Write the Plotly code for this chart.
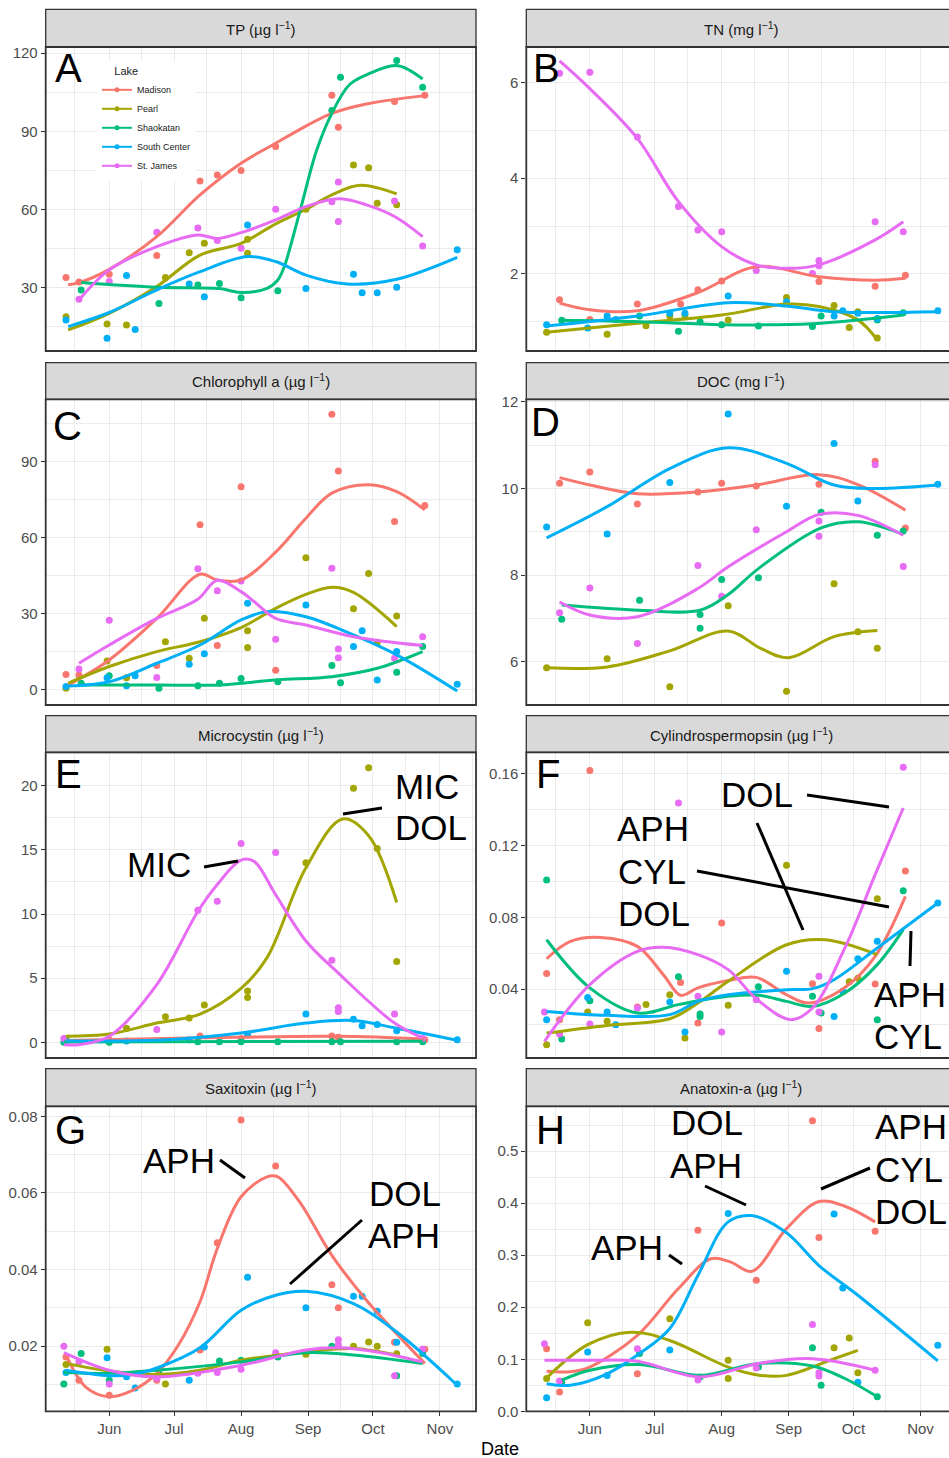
import plotly.graph_objects as go
import pandas as pd

YEAR = "2016"
LAKES = ["Madison", "Pearl", "Shaokatan", "South Center", "St. James"]
COLORS = ["#F8766D", "#A3A500", "#00BF7D", "#00B0F6", "#E76BF3"]

# ---------------- Panel A: TP (ug/l) ----------------
TP_POINTS = [
    [("05-12", 33.8), ("05-18", 32), ("06-01", 35), ("06-23", 42.2), ("07-13", 70.9), ("07-21", 73.2),
     ("08-01", 74.9), ("08-17", 84.1), ("09-12", 103.8), ("09-15", 91.5), ("10-11", 101.4), ("10-25", 103.8)],
    [("05-12", 18.7), ("05-31", 15.9), ("06-09", 15.5), ("06-27", 33.8), ("07-08", 43.3), ("07-15", 46.9),
     ("08-04", 48.5), ("08-04", 43.1), ("08-31", 60), ("09-22", 77), ("09-29", 76), ("10-03", 62.3), ("10-12", 61.7)],
    [("05-19", 29), ("06-24", 23.8), ("07-12", 30.9), ("07-22", 31.5), ("08-01", 26), ("08-18", 28.7),
     ("09-12", 98), ("09-16", 110.8), ("10-12", 117.2), ("10-24", 106.9)],
    [("05-12", 17.4), ("05-31", 10.4), ("06-09", 34.5), ("06-13", 13.8), ("07-08", 31.3), ("07-15", 26.4),
     ("08-04", 54), ("08-31", 29.5), ("09-22", 35), ("09-26", 27.9), ("10-03", 27.9), ("10-12", 30), ("11-09", 44.4)],
    [("05-18", 25.4), ("06-01", 32.2), ("06-23", 51.2), ("07-12", 52.8), ("07-21", 48), ("08-01", 45),
     ("08-17", 60), ("09-12", 62.9), ("09-15", 70.5), ("09-15", 55.3), ("10-11", 63.2), ("10-24", 45.9)],
]
TP_FITS = [
    [("05-13", 31), ("05-18", 31.8), ("06-01", 36.9), ("06-23", 49.5), ("07-13", 65.5), ("08-01", 77.7),
     ("08-17", 85.4), ("08-31", 92), ("09-12", 96.9), ("09-28", 100.5), ("10-25", 103.7)],
    [("05-13", 13.6), ("06-01", 20), ("06-23", 30.3), ("07-13", 42.4), ("08-01", 46.9), ("08-17", 54.4),
     ("08-31", 60), ("09-12", 65.5), ("09-25", 69.2), ("10-12", 65.9)],
    [("05-19", 31.8), ("06-23", 30), ("07-22", 29.5), ("08-01", 28), ("08-13", 29.6), ("08-18", 32.8),
     ("08-21", 38), ("08-28", 58.5), ("09-05", 82.8), ("09-12", 96.9), ("09-20", 107.8), ("09-28", 111.7),
     ("10-12", 115.3), ("10-24", 110.1)],
    [("05-13", 14.9), ("06-01", 20.3), ("06-23", 29), ("07-13", 36), ("08-04", 41.8), ("08-17", 39.9),
     ("08-31", 34.7), ("09-19", 31.3), ("10-12", 33.1), ("11-09", 41.5)],
    [("05-18", 25.1), ("06-01", 36.7), ("06-23", 45.6), ("07-12", 50.1), ("07-21", 48.8), ("08-01", 51),
     ("08-17", 55.9), ("08-31", 61), ("09-15", 64), ("09-28", 61.7), ("10-11", 57.2), ("10-24", 49.5)],
]

# ---------------- Panel B: TN (mg/l) ----------------
TN_POINTS = [
    [("05-18", 1.46), ("06-01", 1.05), ("06-23", 1.37), ("07-13", 1.37), ("07-21", 1.67), ("08-01", 1.85),
     ("09-15", 1.84), ("10-11", 1.74), ("10-25", 1.97)],
    [("05-12", 0.78), ("06-09", 0.74), ("06-27", 0.92), ("07-08", 1.12), ("07-15", 1.14), ("08-04", 1.04),
     ("08-31", 1.51), ("09-22", 1.34), ("09-29", 0.88), ("10-03", 1.21), ("10-12", 0.66)],
    [("05-19", 1.03), ("06-24", 1.12), ("07-12", 0.8), ("07-22", 1.0), ("08-01", 0.94), ("08-18", 0.91),
     ("09-12", 0.9), ("09-16", 1.12), ("10-12", 1.04), ("10-24", 1.19)],
    [("05-12", 0.94), ("05-31", 0.87), ("06-09", 1.12), ("06-13", 1.05), ("07-08", 1.18), ("07-15", 1.18),
     ("08-04", 1.54), ("08-31", 1.42), ("09-22", 1.12), ("09-26", 1.23), ("10-03", 1.18), ("10-12", 1.07), ("11-09", 1.23)],
    [("05-18", 6.19), ("06-01", 6.21), ("06-23", 4.86), ("07-12", 3.41), ("07-21", 2.92), ("08-01", 2.88),
     ("08-17", 2.07), ("09-12", 2.01), ("09-15", 2.28), ("09-15", 2.17), ("10-11", 3.09), ("10-24", 2.88)],
]
TN_FITS = [
    [("05-18", 1.39), ("06-01", 1.25), ("06-23", 1.23), ("07-21", 1.61), ("08-17", 2.15), ("09-15", 1.94),
     ("10-11", 1.87), ("10-25", 1.91)],
    [("05-12", 0.78), ("06-23", 0.97), ("08-01", 1.14), ("08-31", 1.37), ("09-15", 1.32), ("10-03", 1.04), ("10-12", 0.62)],
    [("05-19", 1.03), ("06-24", 1.0), ("08-01", 0.94), ("09-12", 0.96), ("10-24", 1.14)],
    [("05-12", 0.91), ("06-23", 1.12), ("08-04", 1.4), ("08-31", 1.33), ("09-22", 1.21), ("11-09", 1.21)],
    [("05-18", 6.45), ("06-01", 5.87), ("06-23", 4.83), ("07-12", 3.51), ("08-01", 2.57), ("08-17", 2.19),
     ("09-04", 2.12), ("09-15", 2.19), ("10-11", 2.71), ("10-24", 3.09)],
]

# ---------------- Panel C: Chlorophyll a (ug/l) ----------------
CHL_POINTS = [
    [("05-12", 5.9), ("05-18", 5.7), ("06-23", 9.4), ("07-13", 65), ("07-21", 17.3), ("08-01", 80),
     ("08-17", 7.5), ("09-12", 108.7), ("09-15", 86.3), ("10-11", 66.3), ("10-25", 72.6)],
    [("05-12", 0.4), ("05-31", 11.2), ("06-09", 4.6), ("06-27", 18.8), ("07-08", 12.3), ("07-15", 28.1),
     ("08-04", 23.1), ("08-04", 16.5), ("08-31", 52), ("09-22", 31.8), ("09-29", 45.8), ("10-03", 18.6), ("10-12", 29)],
    [("05-19", 2.4), ("06-01", 5.4), ("06-24", 0.4), ("07-12", 1.4), ("07-22", 2.4), ("08-01", 4.3),
     ("08-18", 3.0), ("09-12", 9.4), ("09-16", 2.6), ("10-12", 6.7), ("10-24", 16.9)],
    [("05-12", 1.1), ("05-31", 4.6), ("06-09", 1.4), ("06-13", 5.4), ("07-08", 9.9), ("07-15", 14.1),
     ("08-04", 34), ("08-31", 33.3), ("09-22", 16.9), ("09-26", 23.1), ("10-03", 3.7), ("10-12", 14.9), ("11-09", 2.0)],
    [("05-18", 8), ("06-01", 27.3), ("06-23", 4.7), ("07-12", 47.6), ("07-21", 38.9), ("08-01", 42.8),
     ("08-17", 19.8), ("09-12", 47.8), ("09-15", 15.9), ("09-15", 12.5), ("10-11", 12.3), ("10-24", 20.8)],
]
CHL_FITS = [
    [("05-13", 1.7), ("06-01", 11.6), ("06-23", 28), ("07-13", 45.5), ("07-21", 43.2), ("08-01", 43.2),
     ("08-17", 54.2), ("08-31", 67.6), ("09-12", 77.5), ("09-29", 80.8), ("10-12", 78.1), ("10-25", 70.9)],
    [("05-13", 2.4), ("06-01", 9), ("06-23", 14.9), ("07-13", 18.8), ("08-01", 24.4), ("08-17", 32),
     ("08-31", 37.5), ("09-12", 40.3), ("09-22", 38.3), ("10-12", 24.8)],
    [("05-19", 1.7), ("06-23", 1.7), ("07-22", 1.7), ("08-17", 3.7), ("09-12", 5), ("10-03", 8.3), ("10-24", 14.9)],
    [("05-13", 1.3), ("06-01", 3), ("06-23", 10.3), ("07-13", 17.5), ("08-01", 27.4), ("08-13", 30.7),
     ("08-31", 28.7), ("09-22", 21.5), ("10-12", 13.6), ("11-09", -0.7)],
    [("05-18", 10.3), ("06-01", 17.5), ("06-23", 28), ("07-12", 35.6), ("07-21", 43.1), ("08-01", 38.6),
     ("08-07", 34.7), ("08-17", 28), ("08-31", 25.4), ("09-22", 20.8), ("10-24", 17.3)],
]

# ---------------- Panel D: DOC (mg/l) ----------------
DOC_POINTS = [
    [("05-18", 10.12), ("06-01", 10.38), ("06-23", 9.64), ("07-21", 9.92), ("08-01", 10.12), ("08-17", 10.06),
     ("09-15", 10.1), ("10-11", 10.63), ("10-25", 9.09)],
    [("05-12", 5.86), ("06-09", 6.07), ("07-08", 5.42), ("08-04", 7.29), ("08-31", 5.32), ("09-22", 7.8),
     ("10-03", 6.69), ("10-12", 6.31)],
    [("05-19", 6.98), ("06-24", 7.42), ("07-22", 7.09), ("07-22", 6.77), ("08-01", 7.9), ("08-18", 7.94),
     ("09-16", 9.45), ("10-12", 8.92), ("10-24", 9.02)],
    [("05-12", 9.11), ("06-09", 8.95), ("07-08", 10.14), ("08-04", 11.72), ("08-31", 9.59), ("09-22", 11.04),
     ("10-03", 9.71), ("11-09", 10.1)],
    [("05-18", 7.13), ("06-01", 7.7), ("06-23", 6.42), ("07-21", 8.22), ("08-01", 7.51), ("08-17", 9.05),
     ("09-15", 8.9), ("09-15", 9.25), ("10-11", 10.55), ("10-24", 8.2)],
]
DOC_FITS = [
    [("05-18", 10.25), ("06-01", 10.08), ("06-23", 9.88), ("07-21", 9.92), ("08-17", 10.08), ("09-15", 10.32),
     ("10-03", 10.09), ("10-25", 9.5)],
    [("05-12", 5.86), ("06-09", 5.88), ("07-08", 6.25), ("08-04", 6.71), ("08-19", 6.31), ("09-01", 6.09),
     ("09-22", 6.58), ("10-12", 6.72)],
    [("05-19", 7.31), ("06-24", 7.19), ("07-22", 7.19), ("08-04", 7.55), ("08-18", 8.15), ("09-16", 9.09),
     ("10-03", 9.23), ("10-24", 8.94)],
    [("05-12", 8.86), ("06-09", 9.58), ("07-08", 10.46), ("08-04", 10.94), ("08-31", 10.58), ("09-22", 10.08),
     ("10-11", 10.0), ("11-09", 10.08)],
    [("05-18", 7.38), ("06-01", 7.08), ("06-23", 7.04), ("07-21", 7.69), ("08-04", 8.19), ("08-31", 9.0),
     ("09-15", 9.4), ("10-03", 9.38), ("10-24", 8.92)],
]

# ---------------- Panel E: Microcystin (ug/l) ----------------
MIC_POINTS = [
    [("05-12", 0.2), ("06-01", 0.2), ("07-13", 0.5), ("08-01", 0.3), ("09-12", 0.5), ("09-15", 0.4), ("10-25", 0.2)],
    [("05-12", 0.3), ("06-09", 1.1), ("06-27", 2.0), ("07-08", 1.9), ("07-15", 2.9), ("08-04", 4.0), ("08-04", 3.5),
     ("08-31", 14.0), ("09-22", 19.8), ("09-29", 21.4), ("10-03", 15.1), ("10-12", 6.3)],
    [("05-11", 0.0), ("06-01", 0.0), ("07-12", 0.05), ("07-22", 0.05), ("08-01", 0.05), ("08-18", 0.05),
     ("09-12", 0.05), ("09-16", 0.05), ("10-12", 0.05), ("10-24", 0.05)],
    [("05-12", 0.1), ("06-09", 0.1), ("07-08", 0.2), ("08-04", 0.6), ("08-31", 2.2), ("09-22", 1.8),
     ("09-26", 1.3), ("10-03", 1.4), ("10-12", 0.9), ("11-09", 0.2)],
    [("05-11", 0.29), ("06-23", 1.0), ("07-12", 10.3), ("07-21", 11.0), ("08-01", 15.5), ("08-17", 14.8),
     ("09-12", 6.4), ("09-15", 2.7), ("09-15", 2.4), ("10-11", 2.2), ("10-24", 0.3)],
]
MIC_FITS = [
    [("05-12", 0.15), ("07-13", 0.35), ("09-15", 0.47), ("10-25", 0.26)],
    [("05-12", 0.47), ("06-01", 0.65), ("06-23", 1.5), ("07-13", 2.2), ("08-01", 4.2), ("08-13", 6.6),
     ("08-31", 13.6), ("09-17", 17.4), ("09-29", 16.1), ("10-12", 10.9)],
    [("05-11", 0.03), ("10-24", 0.08)],
    [("05-12", 0.13), ("06-23", 0.16), ("08-01", 0.73), ("08-31", 1.5), ("09-22", 1.7), ("10-12", 1.1), ("11-09", 0.16)],
    [("05-11", -0.18), ("05-18", -0.18), ("06-01", 0.47), ("06-23", 4.5), ("07-12", 10.2), ("07-21", 12.3),
     ("08-01", 14.2), ("08-07", 14.1), ("08-17", 11.5), ("08-31", 7.9), ("09-15", 5.4), ("10-11", 1.5), ("10-24", 0.34)],
]

# ---------------- Panel F: Cylindrospermopsin (ug/l) ----------------
CYL_POINTS = [
    [("05-12", 0.0487), ("05-18", 0.0229), ("06-01", 0.1619), ("06-23", 0.030), ("07-13", 0.0437), ("07-21", 0.021),
     ("08-01", 0.0768), ("09-12", 0.043), ("09-15", 0.0179), ("10-11", 0.0428), ("10-25", 0.1059)],
    [("05-12", 0.0089), ("05-31", 0.0272), ("06-09", 0.022), ("06-27", 0.0313), ("07-08", 0.0368), ("07-15", 0.0127),
     ("08-04", 0.0309), ("08-31", 0.109), ("09-29", 0.044), ("10-03", 0.046), ("10-12", 0.0904)],
    [("05-12", 0.1008), ("05-19", 0.0121), ("06-01", 0.0335), ("07-12", 0.0469), ("07-22", 0.026), ("07-22", 0.0247),
     ("08-18", 0.0413), ("09-12", 0.0359), ("09-16", 0.0266), ("10-12", 0.0229), ("10-24", 0.0949)],
    [("05-12", 0.0229), ("05-31", 0.0353), ("06-09", 0.0272), ("06-13", 0.02), ("07-08", 0.0327), ("07-15", 0.016),
     ("08-31", 0.0499), ("09-22", 0.0247), ("09-26", 0.0387), ("10-03", 0.0569), ("10-12", 0.0666), ("11-09", 0.088)],
    [("05-11", 0.0272), ("05-18", 0.0149), ("06-01", 0.0205), ("06-23", 0.0294), ("07-12", 0.1438), ("07-21", 0.0359),
     ("08-01", 0.016), ("08-17", 0.034), ("09-15", 0.0471), ("09-15", 0.0272), ("10-24", 0.1637)],
]
CYL_FITS = [
    [("05-12", 0.0569), ("05-23", 0.0666), ("06-06", 0.0688), ("06-23", 0.0638), ("07-05", 0.048), ("07-13", 0.0365),
     ("07-21", 0.0406), ("08-04", 0.0447), ("08-17", 0.0465), ("08-31", 0.0368), ("09-10", 0.0322), ("09-27", 0.0409),
     ("10-11", 0.0582), ("10-25", 0.0917)],
    [("05-12", 0.0154), ("06-09", 0.0197), ("07-08", 0.0234), ("07-21", 0.0322), ("08-04", 0.0443), ("08-31", 0.0647),
     ("09-18", 0.0675), ("10-12", 0.0592)],
    [("05-12", 0.0675), ("06-01", 0.0406), ("06-23", 0.0266), ("07-12", 0.0313), ("08-04", 0.0359), ("08-18", 0.0365),
     ("08-31", 0.0331), ("09-12", 0.0303), ("09-27", 0.0378), ("10-12", 0.0536), ("10-24", 0.0731)],
    [("05-12", 0.0275), ("06-09", 0.0253), ("07-08", 0.0257), ("07-21", 0.0331), ("08-04", 0.0368), ("08-31", 0.0396),
     ("09-12", 0.0402), ("09-22", 0.0452), ("10-12", 0.0629), ("11-09", 0.088)],
    [("05-11", 0.0108), ("06-01", 0.0424), ("06-23", 0.061), ("07-05", 0.0633), ("07-21", 0.0592), ("08-04", 0.0508),
     ("08-17", 0.0346), ("09-02", 0.0229), ("09-12", 0.0294), ("09-27", 0.0629), ("10-11", 0.1038), ("10-24", 0.141)],
]

# ---------------- Panel G: Saxitoxin (ug/l) ----------------
SAX_POINTS = [
    [("05-12", 0.0172), ("05-18", 0.0111), ("06-01", 0.0072), ("06-23", 0.0111), ("07-13", 0.019), ("07-21", 0.047),
     ("08-01", 0.079), ("08-17", 0.067), ("09-12", 0.036), ("09-15", 0.030), ("10-11", 0.021), ("10-25", 0.0192)],
    [("05-12", 0.0152), ("05-31", 0.0192), ("06-27", 0.0101), ("08-04", 0.016), ("08-31", 0.0179), ("09-22", 0.020),
     ("09-29", 0.0211), ("10-03", 0.020), ("10-12", 0.018)],
    [("05-11", 0.0101), ("05-19", 0.0181), ("06-01", 0.0111), ("06-24", 0.0137), ("07-22", 0.0161), ("08-01", 0.0163),
     ("08-18", 0.0172), ("09-12", 0.020), ("10-12", 0.0123), ("10-24", 0.0181)],
    [("05-12", 0.0131), ("05-31", 0.017), ("06-09", 0.012), ("06-13", 0.0091), ("07-08", 0.0111), ("07-15", 0.0198),
     ("08-04", 0.038), ("08-31", 0.030), ("09-22", 0.033), ("09-26", 0.033), ("10-03", 0.0291), ("10-12", 0.021),
     ("11-09", 0.0101)],
    [("05-11", 0.020), ("05-18", 0.0159), ("06-01", 0.0101), ("06-23", 0.0116), ("07-12", 0.0129), ("07-21", 0.0131),
     ("08-01", 0.014), ("08-17", 0.0183), ("09-15", 0.0217), ("09-15", 0.0204), ("10-11", 0.0123), ("10-24", 0.0192)],
]
SAX_FITS = [
    [("05-12", 0.0177), ("05-21", 0.0094), ("06-01", 0.0068), ("06-12", 0.0085), ("06-23", 0.0129), ("07-03", 0.0203),
     ("07-13", 0.0316), ("07-21", 0.0455), ("08-01", 0.059), ("08-13", 0.0642), ("08-18", 0.0642), ("08-28", 0.0577),
     ("09-12", 0.0437), ("09-28", 0.032), ("10-25", 0.0155)],
    [("05-12", 0.0155), ("06-01", 0.0135), ("06-23", 0.0126), ("07-13", 0.0137), ("08-01", 0.0163), ("08-31", 0.0185),
     ("09-22", 0.0194), ("10-12", 0.0177)],
    [("05-11", 0.0131), ("06-01", 0.0129), ("06-23", 0.0137), ("08-01", 0.0159), ("08-31", 0.0183), ("09-22", 0.0177),
     ("10-24", 0.0155)],
    [("05-12", 0.0137), ("06-01", 0.0123), ("06-12", 0.0126), ("06-23", 0.0143), ("07-13", 0.0196), ("08-01", 0.0294),
     ("08-17", 0.0333), ("08-31", 0.0343), ("09-22", 0.0311), ("10-12", 0.0237), ("11-09", 0.0098)],
    [("05-11", 0.0183), ("06-01", 0.0137), ("06-23", 0.012), ("08-01", 0.015), ("08-31", 0.019), ("09-15", 0.0196),
     ("10-03", 0.0185), ("10-24", 0.0159)],
]

# ---------------- Panel H: Anatoxin-a (ug/l) ----------------
ANA_POINTS = [
    [("05-12", 0.12), ("05-18", 0.037), ("06-23", 0.072), ("07-21", 0.348), ("08-17", 0.252), ("09-12", 0.558),
     ("09-15", 0.334), ("10-11", 0.346)],
    [("05-12", 0.063), ("05-31", 0.170), ("07-08", 0.178), ("08-04", 0.098), ("08-04", 0.063), ("09-22", 0.122),
     ("09-29", 0.141), ("10-03", 0.074)],
    [("05-19", 0.055), ("06-24", 0.111), ("07-22", 0.066), ("08-18", 0.085), ("09-12", 0.122), ("09-16", 0.05),
     ("10-12", 0.028)],
    [("05-12", 0.026), ("05-31", 0.114), ("06-09", 0.069), ("07-08", 0.118), ("08-04", 0.38), ("09-22", 0.379),
     ("09-26", 0.237), ("10-03", 0.056), ("11-09", 0.127)],
    [("05-11", 0.13), ("05-18", 0.058), ("06-23", 0.12), ("07-21", 0.06), ("08-17", 0.083), ("09-12", 0.167),
     ("09-15", 0.074), ("09-15", 0.068), ("10-11", 0.079)],
]
ANA_FITS = [
    [("05-12", 0.077), ("05-23", 0.076), ("06-01", 0.085), ("06-23", 0.146), ("07-12", 0.236), ("07-27", 0.293),
     ("08-05", 0.287), ("08-15", 0.269), ("08-31", 0.351), ("09-15", 0.403), ("09-27", 0.394), ("10-11", 0.364)],
    [("05-12", 0.064), ("05-31", 0.128), ("06-20", 0.152), ("07-08", 0.136), ("08-04", 0.085), ("08-19", 0.069),
     ("08-31", 0.069), ("09-22", 0.101), ("10-03", 0.117)],
    [("05-19", 0.06), ("06-01", 0.079), ("06-24", 0.09), ("07-22", 0.069), ("08-18", 0.092), ("09-12", 0.087),
     ("09-27", 0.063), ("10-12", 0.028)],
    [("05-12", 0.053), ("05-23", 0.05), ("06-09", 0.072), ("06-23", 0.108), ("07-08", 0.159), ("07-21", 0.261),
     ("08-04", 0.364), ("08-15", 0.376), ("08-31", 0.343), ("09-15", 0.28), ("10-03", 0.223), ("11-09", 0.097)],
    [("05-11", 0.098), ("06-01", 0.098), ("06-23", 0.096), ("07-22", 0.066), ("08-18", 0.092), ("09-12", 0.101),
     ("10-11", 0.079)],
]

TITLES = ["TP (µg l<sup>−1</sup>)", "TN (mg l<sup>−1</sup>)", "Chlorophyll a (µg l<sup>−1</sup>)",
          "DOC (mg l<sup>−1</sup>)", "Microcystin (µg l<sup>−1</sup>)", "Cylindrospermopsin (µg l<sup>−1</sup>)",
          "Saxitoxin (µg l<sup>−1</sup>)", "Anatoxin-a (µg l<sup>−1</sup>)"]
LETTERS = ["A", "B", "C", "D", "E", "F", "G", "H"]
POINTS = [TP_POINTS, TN_POINTS, CHL_POINTS, DOC_POINTS, MIC_POINTS, CYL_POINTS, SAX_POINTS, ANA_POINTS]
FITS = [TP_FITS, TN_FITS, CHL_FITS, DOC_FITS, MIC_FITS, CYL_FITS, SAX_FITS, ANA_FITS]
Y_RANGES = [(5.5, 122.4), (0.39, 6.74), (-6.2, 114.6), (5.0, 12.06),
            (-1.22, 22.6), (0.0015, 0.1721), (0.003, 0.0826), (0.0, 0.586)]
Y_DTICK = [30, 2, 30, 2, 5, 0.04, 0.02, 0.1]
Y_FMT = ["", "", "", "", "", ".2f", ".2f", ".1f"]

# ---------------- layout geometry (pixels) ----------------
W, H = 949, 1458
COL_X = [(45.7, 476.0), (526.3, 956.3)]
ROW_Y = [(47, 351), (399.3, 705), (752.3, 1058), (1106.3, 1411.3)]
STRIP_Y = [(9.3, 47), (362.7, 399.3), (715.7, 752.3), (1068.7, 1106.3)]
PX_PER_DAY = 2.1614
X_START = pd.Timestamp(YEAR + "-05-02 14:30")

FONT = "Arial, Liberation Sans, sans-serif"
BORDER = "#333333"
GRID = "#ebebeb"


def px(x):
    return x / W


def py(y):
    return 1 - y / H


def dates(pairs):
    return [YEAR + "-" + d for d, _ in pairs]


def vals(pairs):
    return [v for _, v in pairs]


fig = go.Figure()
layout = dict(template="none", width=W, height=H, autosize=False,
              margin=dict(l=0, r=0, t=0, b=0, pad=0, autoexpand=False),
              paper_bgcolor="white", plot_bgcolor="white",
              font=dict(family=FONT), showlegend=True)
shapes, annotations = [], []

for i in range(8):
    row, col = i // 2, i % 2
    n = "" if i == 0 else str(i + 1)
    xa, ya = "x" + n, "y" + n
    x0p, x1p = COL_X[col]
    y0p, y1p = ROW_Y[row]
    vis_x1 = min(x1p, W)
    x_end = X_START + pd.Timedelta(days=(vis_x1 - x0p) / PX_PER_DAY)
    bottom = row == 3
    layout["xaxis" + n] = dict(
        domain=[px(x0p), px(vis_x1)], anchor=ya, type="date", automargin=False,
        range=[X_START.strftime("%Y-%m-%d %H:%M"), x_end.strftime("%Y-%m-%d %H:%M")],
        dtick="M1", tick0=YEAR + "-05-01", tickformat="%b",
        showgrid=True, gridcolor=GRID, gridwidth=1.3,
        minor=dict(dtick="M1", tick0=YEAR + "-05-16", showgrid=True, gridcolor=GRID, gridwidth=0.7),
        ticks="outside" if bottom else "", ticklen=4, tickcolor=BORDER, tickwidth=1.2,
        showticklabels=bottom, tickfont=dict(size=15, color="#4d4d4d", family=FONT),
        zeroline=False, showline=False, fixedrange=True)
    dt = Y_DTICK[i]
    layout["yaxis" + n] = dict(
        domain=[py(y1p), py(y0p)], anchor=xa, range=list(Y_RANGES[i]), automargin=False,
        tick0=0, dtick=dt, tickformat=Y_FMT[i],
        showgrid=True, gridcolor=GRID, gridwidth=1.3,
        minor=dict(tick0=0, dtick=dt / 2, showgrid=True, gridcolor=GRID, gridwidth=0.7),
        ticks="outside", ticklen=4, tickcolor=BORDER, tickwidth=1.2,
        tickfont=dict(size=15, color="#4d4d4d", family=FONT),
        zeroline=False, showline=False, fixedrange=True)

    for k in range(5):
        pts = POINTS[i][k]
        fig.add_trace(go.Scatter(x=dates(pts), y=vals(pts), mode="markers", xaxis=xa, yaxis=ya,
                                 marker=dict(color=COLORS[k], size=7, line=dict(width=0)), showlegend=False,
                                 name=LAKES[k], hoverinfo="skip"))
    for k in range(5):
        ft = FITS[i][k]
        fig.add_trace(go.Scatter(x=dates(ft), y=vals(ft), mode="lines", xaxis=xa, yaxis=ya,
                                 line=dict(color=COLORS[k], width=3, shape="spline", smoothing=1.0),
                                 showlegend=False, name=LAKES[k], hoverinfo="skip"))

    # strip and panel border
    sy0, sy1 = STRIP_Y[row]
    shapes.append(dict(type="rect", xref="paper", yref="paper", x0=px(x0p), x1=px(x1p),
                       y0=py(sy1), y1=py(sy0), fillcolor="#d9d9d9", line=dict(color=BORDER, width=1.3),
                       layer="below"))
    shapes.append(dict(type="rect", xref="paper", yref="paper", x0=px(x0p), x1=px(x1p),
                       y0=py(y1p), y1=py(y0p), line=dict(color=BORDER, width=1.8), layer="above"))
    annotations.append(dict(xref="paper", yref="paper", x=px((x0p + x1p) / 2), y=py((sy0 + sy1) / 2),
                            text=TITLES[i], showarrow=False, xanchor="center", yanchor="middle",
                            font=dict(size=15, color="#1a1a1a", family=FONT)))

# legend entries (panel A)
for k in range(5):
    fig.add_trace(go.Scatter(x=[None], y=[None], mode="lines+markers", xaxis="x", yaxis="y",
                             line=dict(color=COLORS[k], width=2), marker=dict(color=COLORS[k], size=5),
                             name=LAKES[k], showlegend=True))

layout["legend"] = dict(x=px(97), y=py(61), xanchor="left", yanchor="top", bgcolor="white",
                        font=dict(size=9, color="#1a1a1a", family=FONT),
                        title=dict(text="&nbsp;&nbsp;&nbsp;&nbsp;&nbsp;Lake",
                                   font=dict(size=11, color="#1a1a1a", family=FONT)),
                        itemwidth=30, tracegroupgap=0)

# panel letters
LETTER_POS = [(55, 68), (533, 68), (53, 426), (531, 422), (55, 774), (536, 774), (55, 1130), (536, 1130)]
for (lx, ly), letter in zip(LETTER_POS, LETTERS):
    annotations.append(dict(xref="paper", yref="paper", x=px(lx - 2), y=py(ly), text=letter, showarrow=False,
                            xanchor="left", yanchor="middle", font=dict(size=40, color="black", family=FONT)))

# toxin-gene labels
LABELS = [("MIC", 127, 865), ("MIC", 395, 786), ("DOL", 395, 827),
          ("DOL", 721, 794), ("APH", 617, 828), ("CYL", 618, 871), ("DOL", 618, 913),
          ("APH", 874, 994), ("CYL", 874, 1036),
          ("APH", 143, 1160), ("DOL", 369, 1193), ("APH", 368, 1235),
          ("DOL", 671, 1122), ("APH", 670, 1165), ("APH", 591, 1247),
          ("APH", 875, 1126), ("CYL", 875, 1169), ("DOL", 875, 1211)]
for txt, lx, ly in LABELS:
    annotations.append(dict(xref="paper", yref="paper", x=px(lx - 2), y=py(ly), text=txt, showarrow=False,
                            xanchor="left", yanchor="middle", font=dict(size=35, color="black", family=FONT)))
LEADERS = [(204, 867, 238, 861), (343, 814, 382, 808),
           (807, 795, 889, 807), (697, 871, 889, 907), (757, 823, 803, 930), (911, 931, 910, 966),
           (220, 1160, 245, 1178), (362, 1220, 290, 1284),
           (705, 1186, 746, 1205), (669, 1255, 682, 1264), (870, 1168, 821, 1189)]
for x0, y0, x1, y1 in LEADERS:
    shapes.append(dict(type="line", xref="paper", yref="paper", x0=px(x0), y0=py(y0), x1=px(x1), y1=py(y1),
                       line=dict(color="black", width=3), layer="above"))

annotations.append(dict(xref="paper", yref="paper", x=px(500), y=py(1449), text="Date", showarrow=False,
                        xanchor="center", yanchor="middle", font=dict(size=18, color="black", family=FONT)))

layout["shapes"] = shapes
layout["annotations"] = annotations
fig.update_layout(**layout)
fig.write_html("out.html")
